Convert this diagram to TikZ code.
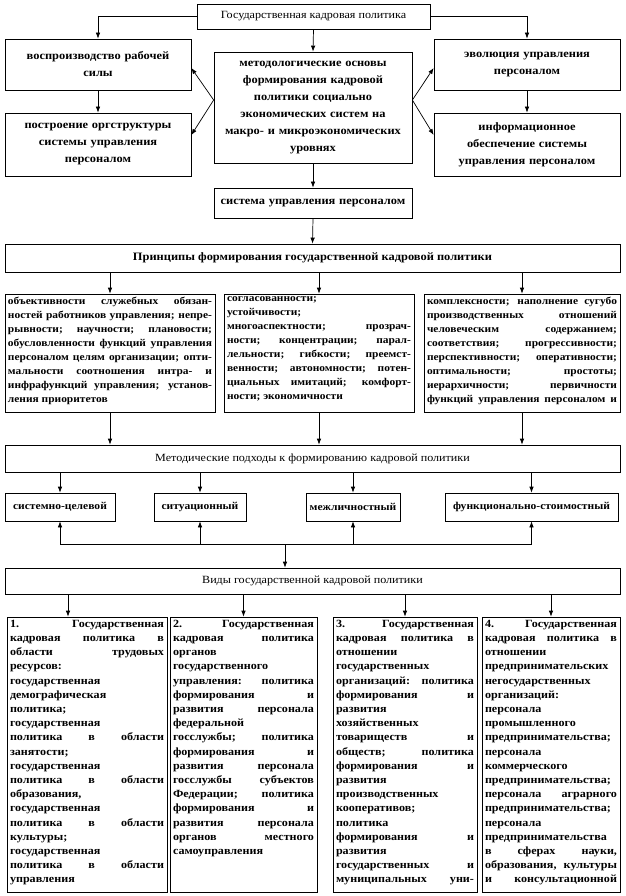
\documentclass[tikz,border=0pt]{standalone}
\usepackage{fontspec}
\setmainfont{Liberation Serif}[FakeStretch=1.1]
\usetikzlibrary{arrows.meta,positioning}
\tolerance=10000
\hbadness=10000
\newcommand\listfont{\fontsize{11}{14.2}\selectfont\bfseries}
\newcommand\rulefont{\fontsize{10.4}{14}\selectfont\bfseries}

\begin{document}
\begin{tikzpicture}[
  x=1pt,y=-1pt,
  >={Latex[length=6pt,width=4.5pt]},
  every node/.style={inner sep=3pt},
  box/.style={draw,line width=0.7pt,align=center},
  upper/.style={box,font=\fontsize{11.3}{17}\selectfont\bfseries},
  header/.style={box,minimum width=615pt,font=\fontsize{11}{13}\selectfont},
  approach/.style={box,minimum height=28pt,font=\fontsize{10.5}{13}\selectfont\bfseries},
  listbox/.style={draw,line width=0.7pt,font=\listfont},
  rulebox/.style={draw,line width=0.7pt,font=\rulefont,minimum height=118pt},
  link/.style={->,line width=0.7pt}
]
  \useasboundingbox (0,0) rectangle (625,896);

  % Upper tier: policy, its foundations and the four side blocks
  \node[box,minimum width=233pt,minimum height=25pt,font=\fontsize{11}{13}\selectfont] (policy) at (313.5,16.5) {Государственная кадровая политика};
  \node[upper,minimum width=186pt,minimum height=51pt,text width=180pt] (reprod) at (98,64.5) {воспроизводство рабочей\\силы};
  \node[upper,minimum width=186pt,minimum height=63pt,text width=180pt] (orgstr) at (98,144.5) {построение оргструктуры\\системы управления\\персоналом};
  \node[upper,minimum width=198pt,minimum height=111pt,text width=192pt] (basis) at (313,107.5) {методологические основы\\формирования кадровой\\политики социально\\экономических систем на\\макро- и микроэкономических\\уровнях};
  \node[upper,minimum width=186pt,minimum height=51pt,text width=180pt] (evol) at (527,64.5) {эволюция управления\\персоналом};
  \node[upper,minimum width=186pt,minimum height=63pt,text width=180pt] (inform) at (527,144.5) {информационное\\обеспечение системы\\управления персоналом};
  \node[upper,minimum width=198pt,minimum height=30pt,text width=192pt] (hrsys) at (313,203) {система управления персоналом};

  \draw[link] (policy.west) -| (reprod.north);
  \draw[link] (policy.east) -| (evol.north);
  \draw[link] (policy.south) -- (basis.north);
  \draw[link] (reprod.south) -- (orgstr.north);
  \draw[link] (evol.south) -- (inform.north);
  \draw[link] ([yshift=7.5pt]basis.west) -- ([yshift=-3.5pt]reprod.east);
  \draw[link] ([yshift=7.5pt]basis.west) -- ([yshift=9.5pt]orgstr.east);
  \draw[link] ([yshift=7.5pt]basis.east) -- ([yshift=-3.5pt]evol.west);
  \draw[link] ([yshift=7.5pt]basis.east) -- ([yshift=9.5pt]inform.west);
  \draw[link] (basis.south) -- (hrsys.north);

  % Principles and their three groups
  \node[header,minimum height=28pt,font=\fontsize{11.3}{13}\selectfont\bfseries] (princ) at (312.5,258) {Принципы формирования государственной кадровой политики};
  \node[rulebox,minimum width=210pt] (pone) at (110,353) {\parbox[c][112pt][t]{204pt}{%
    объективности служебных обязан-\linebreak ностей работников управления; непре-\linebreak
    рывности; научности; плановости;\linebreak обусловленности функций управления\linebreak
    персоналом целям организации; опти-\linebreak мальности соотношения интра- и\linebreak
    инфрафункций управления; установ-\linebreak ления приоритетов}};
  \node[rulebox,minimum width=190pt] (ptwo) at (319,353) {\parbox[c][112pt][t]{184pt}{%
    согласованности;\\ устойчивости;\\
    многоаспектности; прозрач-\linebreak ности; концентрации; парал-\linebreak
    лельности; гибкости; преемст-\linebreak венности; автономности; потен-\linebreak
    циальных имитаций; комфорт-\linebreak ности; экономичности}};
  \node[rulebox,minimum width=196pt] (pthree) at (522,353) {\parbox[c][112pt][t]{190pt}{\parfillskip=0pt
    комплексности; наполнение сугубо\linebreak производственных отношений\linebreak
    человеческим содержанием;\linebreak соответствия; прогрессивности;\linebreak
    перспективности; оперативности;\linebreak оптимальности; простоты;\linebreak
    иерархичности; первичности\linebreak функций управления персоналом и}};
  \draw[link] (hrsys.south) -- (princ.north);
  \foreach \grp in {pone,ptwo,pthree}
    \draw[link] (princ.south -| \grp.north) -- (\grp.north);

  % Methodical approaches
  \node[header,minimum height=27pt] (methods) at (312.5,458.5) {Методические подходы к формированию кадровой политики};
  \node[approach,minimum width=110pt] (sysgoal) at (60,507) {системно-целевой};
  \node[approach,minimum width=92pt] (situat) at (200,507) {ситуационный};
  \node[approach,minimum width=94pt] (interp) at (353,507) {межличностный};
  \node[approach,minimum width=173pt] (funcost) at (531.5,507) {функционально-стоимостный};
  \foreach \grp in {pone,ptwo,pthree}
    \draw[link] (\grp.south) -- (methods.north -| \grp.south);
  \foreach \appr in {sysgoal,situat,interp,funcost}
    \draw[link] (methods.south -| \appr.north) -- (\appr.north);
  \coordinate (join) at (285,544);
  \foreach \appr in {sysgoal,situat,interp,funcost}
    \draw[link] (join) -| (\appr.south);

  % Kinds of state personnel policy
  \node[header,minimum height=26pt] (kinds) at (312.5,581) {Виды государственной кадровой политики};
  \draw[link] (join) -- (kinds.north -| join);

  \node[listbox,minimum width=160pt,minimum height=275pt] (kone) at (87,754.5) {\parbox[c][269pt][t]{154pt}{%
    1. Государственная\linebreak кадровая политика в\linebreak области трудовых\linebreak
    ресурсов:\linebreak государственная\linebreak демографическая\linebreak политика;\linebreak
    государственная\linebreak политика в области\linebreak занятости;\linebreak
    государственная\linebreak политика в области\linebreak образования,\linebreak
    государственная\linebreak политика в области\linebreak культуры;\linebreak
    государственная\linebreak политика в области\linebreak управления}};
  \node[listbox,minimum width=147pt,minimum height=275pt] (ktwo) at (243.5,754.5) {\parbox[c][269pt][t]{141pt}{%
    2. Государственная\linebreak кадровая политика\linebreak органов\linebreak
    государственного\linebreak управления: политика\linebreak формирования и\linebreak
    развития персонала\linebreak федеральной\linebreak госслужбы; политика\linebreak
    формирования и\linebreak развития персонала\linebreak госслужбы субъектов\linebreak
    Федерации; политика\linebreak формирования и\linebreak развития персонала\linebreak
    органов местного\linebreak самоуправления}};
  \node[listbox,minimum width=144pt,minimum height=275pt] (kthree) at (405,754.5) {\parbox[c][269pt][t]{138pt}{\parfillskip=0pt
    3. Государственная\linebreak кадровая политика в\linebreak отношении\linebreak
    государственных\linebreak организаций: политика\linebreak формирования и\linebreak
    развития\linebreak хозяйственных\linebreak товариществ и\linebreak
    обществ; политика\linebreak формирования и\linebreak развития\linebreak
    производственных\linebreak кооперативов;\linebreak политика\linebreak
    формирования и\linebreak развития\linebreak государственных и\linebreak муниципальных уни-}};
  \node[listbox,minimum width=138pt,minimum height=275pt] (kfour) at (551,754.5) {\parbox[c][269pt][t]{132pt}{\parfillskip=0pt
    4. Государственная\linebreak кадровая политика в\linebreak отношении\linebreak
    предпринимательских\linebreak негосударственных\linebreak организаций:\linebreak
    персонала\linebreak промышленного\linebreak предпринимательства;\linebreak
    персонала\linebreak коммерческого\linebreak предпринимательства;\linebreak
    персонала аграрного\linebreak предпринимательства;\linebreak персонала\linebreak
    предпринимательства\linebreak в сферах науки,\linebreak
    образования, культуры\linebreak и консультационной}};
  \coordinate (konetop) at ([xshift=-19pt]kone.north);
  \draw[link] (kinds.south -| konetop) -- (konetop);
  \foreach \kind in {ktwo,kthree,kfour}
    \draw[link] (kinds.south -| \kind.north) -- (\kind.north);
\end{tikzpicture}
\end{document}
